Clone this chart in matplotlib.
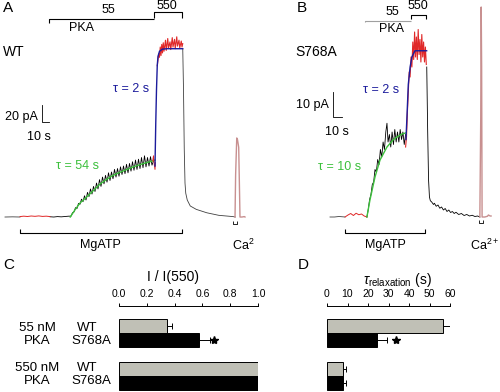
import numpy as np
import matplotlib
matplotlib.use("Agg")
import matplotlib.pyplot as plt

plt.rcParams['font.family'] = ['Liberation Sans', 'DejaVu Sans']
plt.rcParams['mathtext.fontset'] = 'custom'
plt.rcParams['mathtext.rm'] = 'Liberation Sans'
plt.rcParams['mathtext.it'] = 'Liberation Sans:italic'

# ---- panel A trace (WT), time in s, current in pA ----
a_base_t = [0, 10, 20]
a_base_i = [0, 0.2, 0]
a_red1_t = [20, 25, 30, 35, 40, 45, 50, 55, 60]
a_red1_i = [0.5, 1, 0.6, 1.2, 0.8, 1.3, 0.7, 1, 0.5]
a_rise_t = [60, 65, 70, 75, 80, 85, 88, 90, 92, 94, 96, 98, 100, 102, 104, 106, 108, 110,
            112, 114, 116, 118, 120, 122, 124, 126, 128, 130, 132, 134, 136, 138, 140,
            142, 144, 146, 148, 150, 152, 154, 156, 158, 160, 162, 164, 166, 168, 170,
            172, 174, 176, 178, 180, 182, 184, 186, 188, 190, 192, 194, 196, 198]
a_rise_i = [0.3, 0, 0.5, 0.2, 0.6, 1, 1, 5, 6, 11, 10, 16, 15, 21, 18, 25, 20, 29,
            24, 33, 27, 36, 30, 40, 33, 44, 36, 47, 39, 49, 41, 52, 43,
            53, 45, 56, 47, 57, 48, 59, 50, 60, 51, 62, 52, 63, 54, 65,
            55, 67, 56, 68, 57, 70, 58, 72, 59, 70, 60, 71, 61, 66]
a_green_t = [87, 93, 100, 107, 113, 120, 127, 135, 142, 149, 160, 171, 185, 197, 200]
a_green_i = [0, 8, 16.5, 22, 27, 33, 39, 44, 48, 51, 55, 59, 63, 66, 67]
a_dip_t = [197, 198, 199, 200, 200.5]
a_dip_i = [66, 72, 62, 56, 64]
a_blue_t = [200, 201, 202, 203, 204, 206, 210, 216, 237]
a_blue_i = [60, 110, 150, 178, 189, 195, 197.5, 198, 198]
a_top_t = [203, 205, 206, 207, 208, 209, 210, 211, 212, 214, 215, 217, 218, 220, 221,
           223, 224, 226, 227, 229, 230, 232, 233, 235, 236, 237]
a_top_i = [178, 192, 188, 200, 190, 203, 193, 205, 195, 208, 196, 210, 199, 206, 197,
           211, 200, 209, 198, 212, 201, 208, 199, 207, 200, 204]
a_off_t = [237, 238, 239, 240, 241, 243, 247, 255, 269, 285, 304, 307]
a_off_i = [198, 150, 80, 40, 28, 20, 13, 9, 5, 2, 0.5, 0]
a_ca_t = [306.7, 307.5, 309, 310, 311.6, 312.5, 313.3, 316, 319, 320]
a_ca_i = [0, 50, 93, 91, 82, 40, 0, 0, 0.5, 0]

# ---- panel B trace (S768A) ----
b_base_t = [0, 5, 10, 16.7]
b_base_i = [0, 0, 0.2, 0]
b_red1_t = [16.7, 20, 23, 26, 29, 32, 35, 38, 41]
b_red1_i = [0, 0.8, 1.4, 0.6, 1.5, 0.9, 1.2, 0.4, 0]
b_rise_t = [41, 42.5, 44, 45.5, 47, 48.5, 50, 51.5, 53, 54.5, 56, 57.5, 59, 60.5, 62, 63.3,
            64.5, 66, 67.5, 69, 70.5, 72, 73.5, 75, 76.5, 78, 79.5, 81, 82.5, 84]
b_rise_i = [0, 3, 7, 9, 13, 14, 19, 18, 23, 21, 27, 24, 30, 27, 34, 37.5,
            30, 33, 28, 34, 29, 35, 30, 34, 30, 35, 31, 34, 29, 33]
b_green_t = [41, 44.4, 50, 55.6, 63.3, 70, 74.4, 80, 84]
b_green_i = [0, 6.8, 16, 22.8, 28, 30.8, 32, 33.2, 33.6]
b_blue_t = [84.4, 85.5, 87, 89, 91, 94.4, 107.4]
b_blue_i = [31, 40, 53, 60, 64, 66.5, 66.5]
b_top_t = [84, 85, 86, 87, 88, 89, 90, 91, 92, 93, 94, 95, 96, 97, 98, 99, 100, 101,
           102, 103, 104, 105, 106, 107]
b_top_i = [28, 32, 42, 50, 58, 56, 64, 60, 70, 63, 74, 64, 72, 63, 75, 65, 71, 62,
           73, 64, 70, 62, 68, 61]
b_off_t = [107.5, 108.5, 109.5, 110.5, 111.5, 113, 115, 116, 118, 120, 122, 124, 126,
           128, 130, 132, 134, 136, 138, 140, 143, 146, 149, 152, 155, 158, 161, 164, 166.5]
b_off_i = [60, 35, 15, 8, 6.5, 6, 5, 5.5, 4.3, 4.8, 3.5, 4, 2.8,
           3.4, 2.2, 2.8, 1.8, 2.2, 1.4, 1.9, 1, 1.4, 0.6, 1, 0.4, 0.7, 0.2, 0.4, 0]
b_ca_t = [166.5, 167.5, 168, 168.5, 169, 172, 175, 176, 178, 179]
b_ca_i = [0, 40, 84, 60, 0, 0, 0.3, 0.8, 0.4, 0.4]

# application bars (s)
a_mgatp = (20, 236)
a_pka55 = (58.7, 198.7)
a_pka550 = (198.7, 236)
a_ca = (304, 309.3)
b_mgatp = (16.7, 105.6)
b_pka55 = (38.9, 90)
b_pka550 = (90, 106.7)
b_ca = (165.6, 170)

# ---- panels C and D ----
groups = ['55 nM\nPKA', '550 nM\nPKA']
c_wt = [0.342, 1.0]
c_wt_err = [0.036, 0]
c_mut = [0.576, 1.0]
c_mut_err = [0.079, 0]
d_wt = [56.4, 7.8]
d_wt_err = [11.2, 1.6]
d_mut = [24.6, 7.8]
d_mut_err = [4.9, 1.6]
c_ticks = [0.0, 0.2, 0.4, 0.6, 0.8, 1.0]
d_ticks = [0, 10, 20, 30, 40, 50, 60]

W, H = 500, 392
fig = plt.figure(figsize=(5, 3.92), dpi=100)


def fx(x):
    return x / W


def fy(y):
    return 1 - y / H


def ftext(x, y, s, **kw):
    kw.setdefault('ha', 'center')
    kw.setdefault('va', 'center')
    kw.setdefault('fontsize', 9)
    fig.text(fx(x), fy(y), s, **kw)


red = '#e02828'
green = '#3cc03c'
blue = '#1c1c9c'
pink = '#c89090'
grey = '#404040'


def trace_axes(left_px, width_px, xlim, ylim):
    ax = fig.add_axes([fx(left_px), fy(250), width_px / W, 250 / H])
    ax.set_xlim(*xlim)
    ax.set_ylim(*ylim)
    ax.axis('off')
    return ax


def bracket(ax, span, y, tick, color='k', lw=0.8, left=True, right=True):
    xs, ys = [], []
    if left:
        xs.append(span[0]); ys.append(y + tick)
    xs += [span[0], span[1]]
    ys += [y, y]
    if right:
        xs.append(span[1]); ys.append(y + tick)
    ax.plot(xs, ys, color=color, lw=lw, solid_capstyle='butt')


# panel A  (A is cut at its right edge, like the original)
axA = trace_axes(0, 254, (-6.67, 332.0), (-38.8, 255.3))
axA.plot(a_base_t, a_base_i, color=grey, lw=0.6)
axA.plot(a_rise_t, a_rise_i, color='k', lw=0.6)
axA.plot(a_red1_t, a_red1_i, color=red, lw=0.7)
axA.plot(a_green_t, a_green_i, color=green, lw=1.0)
axA.plot(a_dip_t, a_dip_i, color=red, lw=0.7)
axA.plot(a_off_t, a_off_i, color=grey, lw=0.6)
axA.plot(a_top_t, a_top_i, color=red, lw=0.8)
axA.plot(a_blue_t, a_blue_i, color=blue, lw=1.0)
axA.plot(a_ca_t, a_ca_i, color=pink, lw=1.0)
# scale bar 20 pA / 10 s
axA.plot([49, 49, 59], [132, 112, 112], color='k', lw=0.6)
bracket(axA, a_mgatp, -18.8, 4.5)
bracket(axA, a_pka55, 233, -5, right=False)
bracket(axA, a_pka550, 241, -7)
bracket(axA, a_ca, -8.2, 3.5, lw=0.6)
axA.text(303, -33, 'Ca$^{2+}$', fontsize=9, ha='left', va='center', clip_on=True)

# panel B
axB = trace_axes(250, 250, (-88.9, 188.9), (-13.2, 86.8))
axB.plot(b_base_t, b_base_i, color=grey, lw=0.6)
axB.plot(b_rise_t, b_rise_i, color='k', lw=0.6)
axB.plot(b_red1_t, b_red1_i, color=red, lw=0.7)
axB.plot(b_green_t, b_green_i, color=green, lw=1.0)
axB.plot(b_off_t, b_off_i, color='k', lw=0.6)
axB.plot(b_top_t, b_top_i, color=red, lw=0.8)
axB.plot(b_blue_t, b_blue_i, color=blue, lw=1.0)
axB.plot(b_ca_t, b_ca_i, color=pink, lw=1.0)
axB.plot([3.3, 3.3, 13.3], [50, 40, 40], color='k', lw=0.6)
bracket(axB, b_mgatp, -6.4, 1.6)
bracket(axB, b_pka55, 78.4, -0.6, color='#a0a0a0', right=False)
bracket(axB, b_pka550, 80.8, -1.6)
bracket(axB, b_ca, -2.4, 1.2, lw=0.6)

# texts of A
ftext(3, 8, 'A', fontsize=11, ha='left')
ftext(3, 52, 'WT', fontsize=10, ha='left')
ftext(108, 10, '55')
ftext(167, 6, '550')
ftext(82, 28, 'PKA')
ftext(113, 89, 'τ = 2 s', ha='left', color=blue)
ftext(56, 166, 'τ = 54 s', ha='left', color=green)
ftext(38, 117, '20 pA', ha='right')
ftext(27, 137, '10 s', ha='left')
ftext(100, 245, 'MgATP')

# texts of B
ftext(297, 8, 'B', fontsize=11, ha='left')
ftext(295, 52, 'S768A', fontsize=10, ha='left')
ftext(392, 12, '55')
ftext(418, 6, '550')
ftext(392, 29, 'PKA')
ftext(363, 90, 'τ = 2 s', ha='left', color=blue)
ftext(318, 167, 'τ = 10 s', ha='left', color=green)
ftext(329, 105, '10 pA', ha='right')
ftext(325, 132, '10 s', ha='left')
ftext(385, 245, 'MgATP')
ftext(485, 245, 'Ca$^{2+}$')


# bar panels
def bar_axes(left_px, right_px, xmax, ticks, fmt):
    ax = fig.add_axes([fx(left_px), 0, (right_px - left_px) / W, fy(306)])
    ax.set_xlim(0, xmax)
    ax.set_ylim(4.63, -1.40)
    for s in ['bottom', 'left', 'right']:
        ax.spines[s].set_visible(False)
    ax.spines['top'].set_linewidth(0.7)
    ax.xaxis.tick_top()
    ax.set_xticks(ticks)
    ax.set_xticklabels([fmt.format(t) for t in ticks])
    ax.tick_params(axis='x', labelsize=7.5, length=2.5, width=0.7, pad=2.5)
    ax.set_yticks([])
    ax.patch.set_alpha(0)
    return ax


pos_wt = [0, 3]
pos_mut = [1, 4]


def draw_bars(ax, wt, wt_err, mut, mut_err, star_off):
    ax.barh(pos_wt, wt, height=1.0, color='#c0c0b6', edgecolor='k', linewidth=0.7)
    ax.barh(pos_mut, mut, height=1.0, color='k', edgecolor='k', linewidth=0.7)
    for p, v, e in list(zip(pos_wt, wt, wt_err)) + list(zip(pos_mut, mut, mut_err)):
        if e > 0:
            ax.errorbar(v, p, xerr=[[0], [e]], fmt='none', ecolor='k',
                        elinewidth=0.7, capsize=2.2, capthick=0.7)
    ax.plot(mut[0] + mut_err[0] + star_off, pos_mut[0], marker='*', color='k',
            markersize=6, clip_on=False)


axC = bar_axes(119, 258, 1.0, c_ticks, '{:.1f}')
draw_bars(axC, c_wt, c_wt_err, c_mut, c_mut_err, 0.025)
axD = bar_axes(327, 450, 60, d_ticks, '{:d}')
draw_bars(axD, d_wt, d_wt_err, d_mut, d_mut_err, 4.0)

ftext(3, 265, 'C', fontsize=11, ha='left')
ftext(298, 265, 'D', fontsize=11, ha='left')
ftext(173, 277, 'I / I(550)', fontsize=10)
ftext(397, 280, r'$\tau_{\mathrm{relaxation}}$ (s)', fontsize=10)
for k, g in enumerate(groups):
    y0 = 328 + k * 40
    top, bot = g.split('\n')
    ftext(37, y0, top, fontsize=9.5)
    ftext(37, y0 + 13, bot, fontsize=9.5)
    ftext(87, y0, 'WT', fontsize=9.5)
    ftext(91, y0 + 13, 'S768A', fontsize=9.5)

fig.savefig('out.png', dpi=100)
